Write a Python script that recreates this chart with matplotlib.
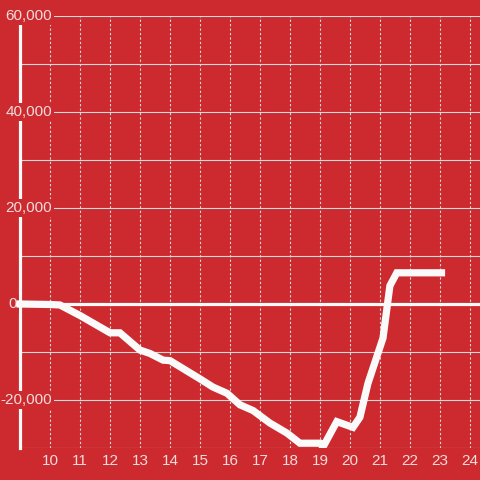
import matplotlib
matplotlib.use("Agg")
import matplotlib.pyplot as plt
import matplotlib.transforms as mtransforms
from matplotlib.patches import Rectangle

# ---- data ----
hours = [9.0, 10.0, 10.33, 11.0, 12.0, 12.33, 13.0, 13.33, 13.77, 14.0, 15.0,
         15.43, 15.9, 16.33, 16.77, 17.33, 17.9, 18.33, 19.0, 19.1, 19.56,
         20.1, 20.33, 20.6, 21.1, 21.33, 21.56, 23.05]
values = [0, -100, -200, -2400, -6000, -6000, -9600, -10300, -11700, -11800, -15600,
          -17300, -18600, -21000, -22200, -24800, -26900, -29000, -29000, -29800, -24500,
          -25700, -23600, -16500, -7100, 3800, 6500, 6500]
x_ticks = list(range(10, 25))
y_major = [-20000, 0, 20000, 40000, 60000]
y_labels = ["-20,000", "0", "20,000", "40,000", "60,000"]
y_minor = [-30000, -10000, 10000, 30000, 50000]

BG = "#cc2a2f"
TXT = "#f3dcdc"
GRID = "#d9d9d9"
WHITE = "#fafafa"

plt.rcParams['font.family'] = ['Liberation Sans', 'DejaVu Sans']

fig = plt.figure(figsize=(4.8, 4.8), dpi=100, facecolor=BG)
W = H = 480.0
ax = fig.add_axes([20 / W, (H - 448) / H, (480 - 20) / W, (448 - 16) / H])
ax.set_facecolor(BG)
ax.set_xlim(9, 9 + 460 / 30.0)
ax.set_ylim(-30000, 60000)

for s in ax.spines.values():
    s.set_visible(False)

# grid
ax.set_xticks(x_ticks)
ax.set_xticklabels([str(t) for t in x_ticks])
ax.set_yticks(y_major)
ax.set_yticks(y_minor, minor=True)
ax.set_yticklabels([])
ax.tick_params(axis='both', which='both', length=0)
ax.tick_params(axis='x', colors=TXT, labelsize=11, pad=4.5)
ax.grid(axis='x', color=GRID, linestyle=(0, (2, 2)), linewidth=0.8)
ax.grid(axis='y', which='both', color=GRID, linestyle='-', linewidth=0.8)
ax.set_axisbelow(True)

# left spine (drawn manually so labels can cover it)
ax.plot([9, 9], [-30000, 60000], color=WHITE, lw=2.3, zorder=0.6, clip_on=False)
# zero line
ax.plot([8.9, 9 + 460 / 30.0], [0, 0], color=WHITE, lw=2.3, zorder=2, clip_on=False)

# y labels with background boxes
trans = mtransforms.blended_transform_factory(fig.transFigure, ax.transData)
for v, lab in zip(y_major, y_labels):
    xr = 16.5 / W if v == 0 else 52 / W
    ax.text(xr, v, lab, transform=trans, ha='right', va='center', color=TXT,
            fontsize=11, zorder=1.8, clip_on=False,
            bbox=dict(facecolor=BG, edgecolor='none', pad=1.5))

# data line
ln, = ax.plot(hours, values, color=WHITE, lw=5.2, zorder=3,
              solid_capstyle='projecting', solid_joinstyle='miter')
clip = Rectangle((-0.02, 0), 1.04, 1.05, transform=ax.transAxes)
ln.set_clip_path(clip)

fig.savefig("out.png", dpi=100, facecolor=BG)
